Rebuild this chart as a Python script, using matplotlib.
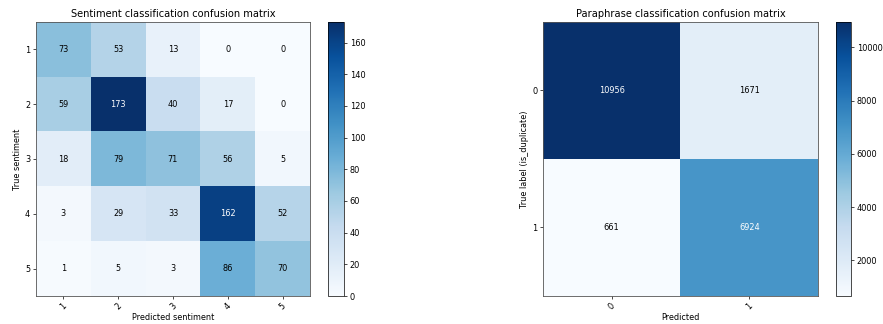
import numpy as np
import matplotlib
matplotlib.use('Agg')
import matplotlib.pyplot as plt

sent_labels = ['1', '2', '3', '4', '5']
sent_cm = [[73, 53, 13, 0, 0],
           [59, 173, 40, 17, 0],
           [18, 79, 71, 56, 5],
           [3, 29, 33, 162, 52],
           [1, 5, 3, 86, 70]]

para_labels = ['0', '1']
para_cm = [[10956, 1671],
           [661, 6924]]

fs = 5.9


def plotConfusion(ax, cax, cm, labels, title, xlabel, ylabel):
    cm = np.array(cm)
    im = ax.imshow(cm, interpolation='nearest', cmap=plt.cm.Blues, aspect='auto')
    ax.set_title(title, fontsize=7.1, pad=3.5)
    cb = plt.colorbar(im, cax=cax)
    cb.ax.tick_params(labelsize=fs, length=2.2, width=0.5, pad=2)
    cb.outline.set_linewidth(0.5)
    ticks = np.arange(len(labels))
    ax.set_xticks(ticks)
    ax.set_xticklabels(labels, rotation=45)
    ax.set_yticks(ticks)
    ax.set_yticklabels(labels)
    ax.tick_params(labelsize=fs, length=2.2, width=0.5, pad=2)
    for s in ax.spines.values():
        s.set_linewidth(0.6)
        s.set_color('#555555')
    thresh = cm.max() / 2.
    for i in range(cm.shape[0]):
        for j in range(cm.shape[1]):
            ax.text(j, i, format(cm[i, j], 'd'), ha='center', va='center', fontsize=fs,
                    color='white' if cm[i, j] > thresh else 'black')
    ax.set_xlabel(xlabel, fontsize=fs, labelpad=1)
    ax.set_ylabel(ylabel, fontsize=fs, labelpad=2)


fig = plt.figure(figsize=(8.83, 3.24), dpi=100)
W, H = 883, 324
ax1 = fig.add_axes([36 / W, 1 - 296 / H, 274 / W, 274 / H])
cax1 = fig.add_axes([328 / W, 1 - 296 / H, 16 / W, 274 / H])
ax2 = fig.add_axes([543 / W, 1 - 296 / H, 275 / W, 274 / H])
cax2 = fig.add_axes([836 / W, 1 - 296 / H, 15 / W, 274 / H])

plotConfusion(ax1, cax1, sent_cm, sent_labels, 'Sentiment classification confusion matrix',
              'Predicted sentiment', 'True sentiment')
plotConfusion(ax2, cax2, para_cm, para_labels, 'Paraphrase classification confusion matrix',
              'Predicted', 'True label (is_duplicate)')

plt.savefig('out.png', dpi=100)
